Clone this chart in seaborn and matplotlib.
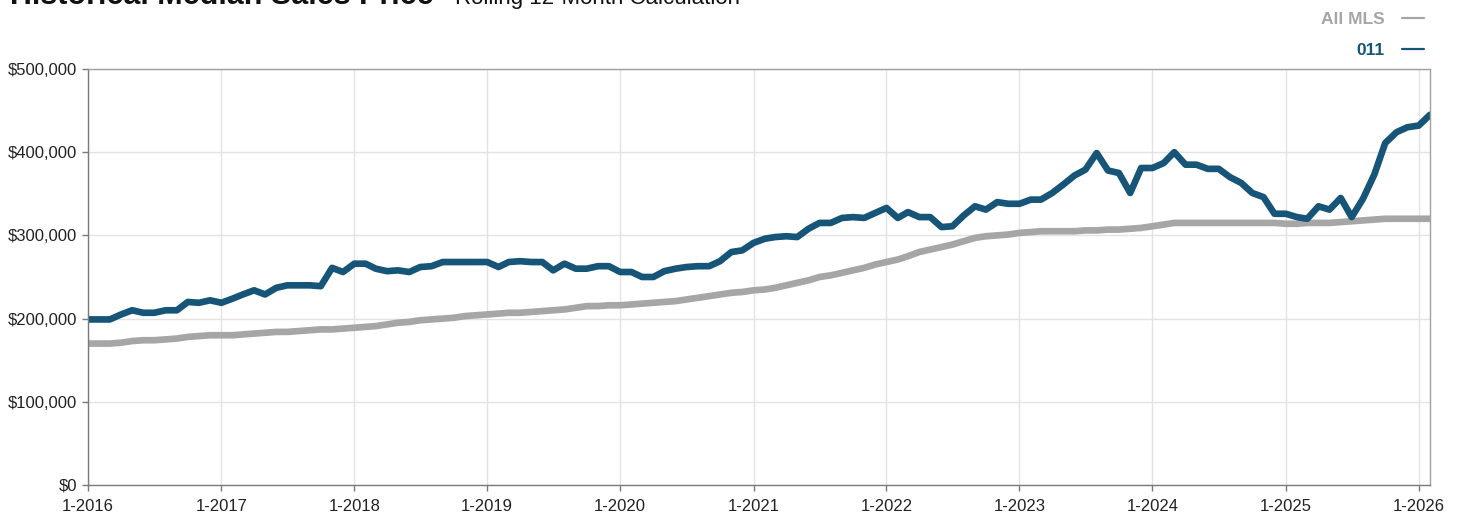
import numpy as np
import pandas as pd
import matplotlib
matplotlib.use("Agg")
import matplotlib.pyplot as plt
import matplotlib.ticker as mticker
import matplotlib.dates as mdates
import seaborn as sns

# monthly rolling 12-month median sales price, 1-2016 .. 2-2026 (in $1,000)
area_011 = [
    199, 199, 199, 205, 210, 207, 207, 210, 210, 220, 219, 222,   # 2016
    219, 224, 229, 234, 229, 237, 240, 240, 240, 239, 261, 256,   # 2017
    266, 266, 260, 257, 258, 256, 262, 263, 268, 268, 268, 268,   # 2018
    268, 262, 268, 269, 268, 268, 258, 266, 260, 260, 263, 263,   # 2019
    256, 256, 250, 250, 257, 260, 262, 263, 263, 269, 280, 282,   # 2020
    291, 296, 298, 299, 298, 308, 315, 315, 321, 322, 321, 327,   # 2021
    333, 321, 328, 322, 322, 310, 311, 324, 335, 331, 340, 338,   # 2022
    338, 343, 343, 351, 361, 372, 379, 399, 378, 375, 351, 381,   # 2023
    381, 387, 400, 385, 385, 380, 380, 370, 363, 351, 346, 326,   # 2024
    326, 322, 320, 335, 331, 345, 322, 344, 373, 411, 424, 430,   # 2025
    432, 445,                                                     # 2026
]
all_mls = [
    170, 170, 170, 171, 173, 174, 174, 175, 176, 178, 179, 180,
    180, 180, 181, 182, 183, 184, 184, 185, 186, 187, 187, 188,
    189, 190, 191, 193, 195, 196, 198, 199, 200, 201, 203, 204,
    205, 206, 207, 207, 208, 209, 210, 211, 213, 215, 215, 216,
    216, 217, 218, 219, 220, 221, 223, 225, 227, 229, 231, 232,
    234, 235, 237, 240, 243, 246, 250, 252, 255, 258, 261, 265,
    268, 271, 275, 280, 283, 286, 289, 293, 297, 299, 300, 301,
    303, 304, 305, 305, 305, 305, 306, 306, 307, 307, 308, 309,
    311, 313, 315, 315, 315, 315, 315, 315, 315, 315, 315, 315,
    314, 314, 315, 315, 315, 316, 317, 318, 319, 320, 320, 320,
    320, 320,
]
series_names = ["All MLS", "011"]
series_colors = ["#a6a6a6", "#165478"]

months = pd.date_range("2016-01-01", periods=len(area_011), freq="MS")
df = pd.DataFrame({
    "month": np.concatenate([months, months]),
    "price": np.array(all_mls + area_011) * 1000,
    "series": [series_names[0]] * len(all_mls) + [series_names[1]] * len(area_011),
})

sns.set_theme(style="whitegrid")
plt.rcParams["font.family"] = ["Liberation Sans", "DejaVu Sans"]

fig = plt.figure(figsize=(14.6, 5.14), dpi=100)
ax = fig.add_axes([88 / 1460, 1 - 485 / 514, (1430 - 88) / 1460, (485 - 69) / 514])

sns.lineplot(data=df, x="month", y="price", hue="series", hue_order=series_names,
             palette=series_colors, linewidth=4.8, ax=ax, legend=True)

ax.set_xlim(months[0], months[-1])
ax.set_ylim(0, 500000)
ax.yaxis.set_major_locator(mticker.MultipleLocator(100000))
ax.yaxis.set_major_formatter(mticker.FuncFormatter(lambda v, p: f"${v:,.0f}"))
ax.xaxis.set_major_locator(mdates.YearLocator())
ax.xaxis.set_major_formatter(mdates.DateFormatter("1-%Y"))
ax.set_xlabel("")
ax.set_ylabel("")

ax.grid(True, color="#e3e3e3", linewidth=1)
for s in ax.spines.values():
    s.set_visible(True)
    s.set_color("#a0a0a0")
    s.set_linewidth(1)
ax.spines["left"].set_color("#7a7a7a")
ax.spines["bottom"].set_color("#7a7a7a")
ax.tick_params(axis="both", length=4, width=1, color="#7a7a7a", labelsize=12,
               labelcolor="#222222", bottom=True, left=True)
ax.tick_params(axis="x", pad=6)
ax.tick_params(axis="y", pad=4)

leg = ax.legend(loc="upper right", bbox_to_anchor=(1433 / 1460, 1 - 3 / 514),
                bbox_transform=fig.transFigure, frameon=False, markerfirst=False,
                handlelength=1.3, handletextpad=1.0, labelspacing=0.9,
                borderpad=0, labelcolor="linecolor", prop={"weight": "bold", "size": 12.5})
for line in leg.get_lines():
    line.set_linewidth(1.6)

fig.text(10 / 1460, 1 - 4 / 514, "Historical Median Sales Price", fontsize=22,
         fontweight="bold", color="#111111", va="baseline", ha="left")
fig.text(455 / 1460, 1 - 4 / 514, "Rolling 12-Month Calculation", fontsize=16,
         color="#111111", va="baseline", ha="left")

fig.savefig("out.png", dpi=100)
